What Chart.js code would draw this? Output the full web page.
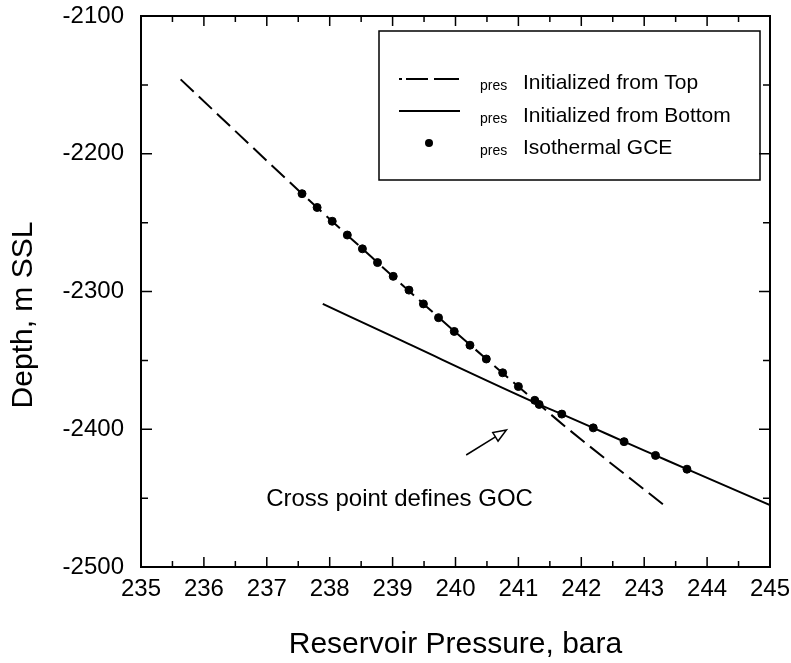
<!DOCTYPE html>
<html>
<head>
<meta charset="utf-8">
<script src="https://cdn.jsdelivr.net/npm/chart.js@4.4.1/dist/chart.umd.min.js"></script>
<style>
  html, body { margin: 0; padding: 0; background: #fff; }
  #wrap { width: 791px; height: 663px; }
</style>
</head>
<body>
<div id="wrap"><canvas id="goc"></canvas></div>
<script>
// pres initialized from top (gas gradient)
var topP = [235.63, 237.56, 238.52, 239.49, 240.49, 241.33, 241.77, 243.34];
var topD = [-2146, -2229, -2269, -2309, -2349, -2382, -2399, -2456];

// pres initialized from bottom (oil gradient)
var botP = [237.89, 239.11, 241.33, 241.69, 242.19, 242.68, 243.18, 243.68, 245.0];
var botD = [-2309, -2335, -2382, -2389, -2399, -2409, -2419, -2429, -2455];

// isothermal GCE points
var gceP = [237.56, 237.80, 238.04, 238.28, 238.52, 238.76, 239.01, 239.26, 239.49, 239.73,
            239.98, 240.23, 240.49, 240.75, 241.00, 241.26, 241.33, 241.69, 242.19, 242.68,
            243.18, 243.68];
var gceD = [-2229, -2239, -2249, -2259, -2269, -2279, -2289, -2299, -2309, -2319,
            -2329, -2339, -2349, -2359, -2369, -2379, -2382, -2389, -2399, -2409,
            -2419, -2429];

var legendLabels = ["Initialized from Top", "Initialized from Bottom", "Isothermal GCE"];

function pts(xs, ys) {
    return xs.map(function (x, i) { return { x: x, y: ys[i] }; });
}

var FONT = "'Liberation Sans', Arial, Helvetica, sans-serif";

/* frame + inward ticks on all four sides */
var frameTicks = {
    id: 'frameTicks',
    afterDraw: function (chart) {
        var ctx = chart.ctx, a = chart.chartArea;
        var xs = chart.scales.x, ys = chart.scales.y;
        ctx.save();
        ctx.strokeStyle = '#000';
        ctx.lineWidth = 2;
        ctx.strokeRect(a.left, a.top, a.right - a.left, a.bottom - a.top);
        ctx.lineWidth = 1.5;
        ctx.beginPath();
        for (var v = 235; v <= 245; v += 0.5) {
            var px = xs.getPixelForValue(v);
            var len = (v % 1 === 0) ? 10 : 6;
            ctx.moveTo(px, a.bottom); ctx.lineTo(px, a.bottom - len);
            ctx.moveTo(px, a.top); ctx.lineTo(px, a.top + len);
        }
        for (var d = -2500; d <= -2100; d += 50) {
            var py = ys.getPixelForValue(d);
            var l2 = (d % 100 === 0) ? 11 : 7;
            ctx.moveTo(a.left, py); ctx.lineTo(a.left + l2, py);
            ctx.moveTo(a.right, py); ctx.lineTo(a.right - l2, py);
        }
        ctx.stroke();

        // y axis title, sits a little below the middle of the frame
        ctx.save();
        ctx.translate(24, 315);
        ctx.rotate(-Math.PI / 2);
        ctx.fillStyle = '#000';
        ctx.font = '30px ' + FONT;
        ctx.textAlign = 'center';
        ctx.textBaseline = 'middle';
        ctx.fillText('Depth, m SSL', 0, 0);
        ctx.restore();
        ctx.restore();
    }
};

/* legend box with subscripted p_res */
var boxLegend = {
    id: 'boxLegend',
    afterDraw: function (chart) {
        var ctx = chart.ctx;
        ctx.save();
        ctx.strokeStyle = '#000';
        ctx.lineWidth = 1.5;
        ctx.strokeRect(379, 31, 381, 149);

        var rows = [89, 122, 154];
        ctx.lineWidth = 2;
        // dashed sample
        ctx.setLineDash([3, 4, 22, 6, 22, 0]);
        ctx.beginPath(); ctx.moveTo(399, 79); ctx.lineTo(460, 79); ctx.stroke();
        ctx.setLineDash([]);
        // solid sample
        ctx.beginPath(); ctx.moveTo(399, 111); ctx.lineTo(460, 111); ctx.stroke();
        // dot sample
        ctx.fillStyle = '#000';
        ctx.beginPath(); ctx.arc(429, 143, 4, 0, Math.PI * 2); ctx.fill();

        ctx.textBaseline = 'alphabetic';
        ctx.textAlign = 'left';
        for (var i = 0; i < 3; i++) {
            ctx.font = '14px ' + FONT;
            ctx.fillText('pres', 480, rows[i] + 1);
            ctx.font = '21px ' + FONT;
            ctx.fillText(legendLabels[i], 523, rows[i]);
        }
        ctx.restore();
    }
};

/* arrow and note pointing at the cross point */
var goc = {
    id: 'goc',
    afterDraw: function (chart) {
        var ctx = chart.ctx, xs = chart.scales.x, ys = chart.scales.y;
        var x0 = xs.getPixelForValue(240.17), y0 = ys.getPixelForValue(-2418.7);
        var x1 = xs.getPixelForValue(240.81), y1 = ys.getPixelForValue(-2400.5);
        var ang = Math.atan2(y1 - y0, x1 - x0);
        var hl = 13, hw = 5;
        var bx = x1 - hl * Math.cos(ang), by = y1 - hl * Math.sin(ang);
        ctx.save();
        ctx.strokeStyle = '#000';
        ctx.lineWidth = 1.5;
        ctx.beginPath(); ctx.moveTo(x0, y0); ctx.lineTo(bx, by); ctx.stroke();
        ctx.beginPath();
        ctx.moveTo(x1, y1);
        ctx.lineTo(bx + hw * Math.sin(ang), by - hw * Math.cos(ang));
        ctx.lineTo(bx - hw * Math.sin(ang), by + hw * Math.cos(ang));
        ctx.closePath();
        ctx.fillStyle = '#fff';
        ctx.fill();
        ctx.stroke();

        ctx.fillStyle = '#000';
        ctx.font = '24px ' + FONT;
        ctx.textAlign = 'center';
        ctx.textBaseline = 'alphabetic';
        ctx.fillText('Cross point defines GOC', xs.getPixelForValue(239.11), ys.getPixelForValue(-2456));
        ctx.restore();
    }
};

new Chart(document.getElementById('goc'), {
    type: 'scatter',
    data: {
        datasets: [{
            label: 'pres Isothermal GCE',
            data: pts(gceP, gceD),
            showLine: false,
            pointRadius: 4,
            pointHoverRadius: 4,
            pointBackgroundColor: '#000',
            pointBorderColor: '#000',
            order: 1
        }, {
            label: 'pres Initialized from Top',
            data: pts(topP, topD),
            showLine: true,
            borderColor: '#000',
            borderWidth: 2,
            borderDash: [18, 7],
            pointRadius: 0,
            cubicInterpolationMode: 'monotone',
            order: 2
        }, {
            label: 'pres Initialized from Bottom',
            data: pts(botP, botD),
            showLine: true,
            borderColor: '#000',
            borderWidth: 2,
            pointRadius: 0,
            cubicInterpolationMode: 'monotone',
            order: 3
        }]
    },
    options: {
        responsive: true,
        maintainAspectRatio: false,
        animation: false,
        layout: { padding: { top: 16, right: 21, left: 0, bottom: 0 } },
        plugins: {
            legend: { display: false },
            tooltip: { enabled: false }
        },
        scales: {
            x: {
                type: 'linear',
                min: 235, max: 245,
                grid: { display: false, drawTicks: false },
                border: { display: false },
                ticks: {
                    stepSize: 1,
                    padding: 8,
                    color: '#000',
                    font: { family: FONT, size: 24 },
                    callback: function (v) { return String(v); }
                },
                title: {
                    display: true,
                    text: 'Reservoir Pressure, bara',
                    color: '#000',
                    font: { family: FONT, size: 30 },
                    padding: { top: 0, bottom: 0 }
                },
                afterFit: function (s) {
                    s.height = 96;
                    s.paddingLeft = 0;
                    s.paddingRight = 0;
                }
            },
            y: {
                type: 'linear',
                min: -2500, max: -2100,
                grid: { display: false, drawTicks: false },
                border: { display: false },
                ticks: {
                    stepSize: 100,
                    padding: 17,
                    color: '#000',
                    font: { family: FONT, size: 24 },
                    callback: function (v) { return String(v); }
                },
                afterFit: function (s) {
                    s.width = 141;
                    s.paddingTop = 0;
                    s.paddingBottom = 0;
                }
            }
        }
    },
    plugins: [frameTicks, boxLegend, goc]
});
</script>
</body>
</html>
